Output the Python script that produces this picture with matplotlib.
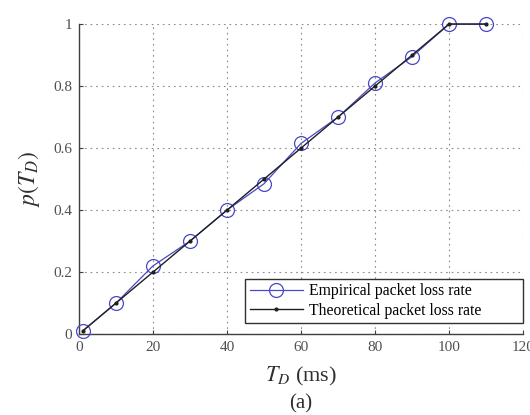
import matplotlib
matplotlib.use("Agg")
import matplotlib.pyplot as plt

plt.rcParams['font.family'] = ['Liberation Serif', 'DejaVu Serif']
plt.rcParams['mathtext.fontset'] = 'stix'

td_emp = [1, 10, 20, 30, 40, 50, 60, 70, 80, 90, 100, 110]
p_emp = [0.01, 0.10, 0.22, 0.30, 0.40, 0.485, 0.615, 0.70, 0.81, 0.895, 1.0, 1.0]
td_theo = [1, 10, 20, 30, 40, 50, 60, 70, 80, 90, 100, 110]
p_theo = [0.01, 0.10, 0.20, 0.30, 0.40, 0.50, 0.60, 0.70, 0.80, 0.90, 1.0, 1.0]
xticks = [0, 20, 40, 60, 80, 100, 120]
yticks = [0, 0.2, 0.4, 0.6, 0.8, 1]
yticklabels = ['0', '0.2', '0.4', '0.6', '0.8', '1']

fig = plt.figure(figsize=(5.3, 4.15), dpi=100)
ax = fig.add_axes([0.149, 0.195, 0.838, 0.747])

ax.plot(td_emp, p_emp, color='#4848c8', lw=0.9, marker='o', ms=10,
        mfc='none', mec='#4848c8', mew=0.9, label='Empirical packet loss rate',
        zorder=3, clip_on=False)
ax.plot(td_theo, p_theo, color='#202020', lw=1.0, marker='.', ms=4,
        label='Theoretical packet loss rate', zorder=4, clip_on=False)

ax.set_xlim(0, 120)
ax.set_ylim(0, 1)
ax.set_xticks(xticks)
ax.set_yticks(yticks)
ax.set_yticklabels(yticklabels)
ax.grid(True, linestyle=(0, (1.5, 3.5)), color='#8c8c8c', lw=0.8)
for s in ['top', 'right']:
    ax.spines[s].set_visible(False)
for s in ['left', 'bottom']:
    ax.spines[s].set_color('#404040')
    ax.spines[s].set_linewidth(1.0)
ax.tick_params(direction='in', length=3, labelsize=11, colors='#404040',
               labelcolor='#505050', pad=5)

ax.set_ylabel('$p(T_D)$', fontsize=17, color='#303030', labelpad=8)
ax.set_xlabel('$T_D$ (ms)', fontsize=16, color='#303030', labelpad=8)
fig.text(0.568, 0.004, '(a)', fontsize=15, ha='center', va='bottom', color='#303030')

leg = ax.legend(loc='lower left', fontsize=11.3, frameon=True, fancybox=False,
                edgecolor='#303030', framealpha=1, borderpad=0.3, handlelength=3.4,
                handletextpad=0.4, labelspacing=0.2, mode='expand',
                bbox_to_anchor=(0.374, 0.035, 0.626, 0.148), borderaxespad=0)
leg.get_frame().set_linewidth(1.0)

fig.savefig('out.png', dpi=100)
